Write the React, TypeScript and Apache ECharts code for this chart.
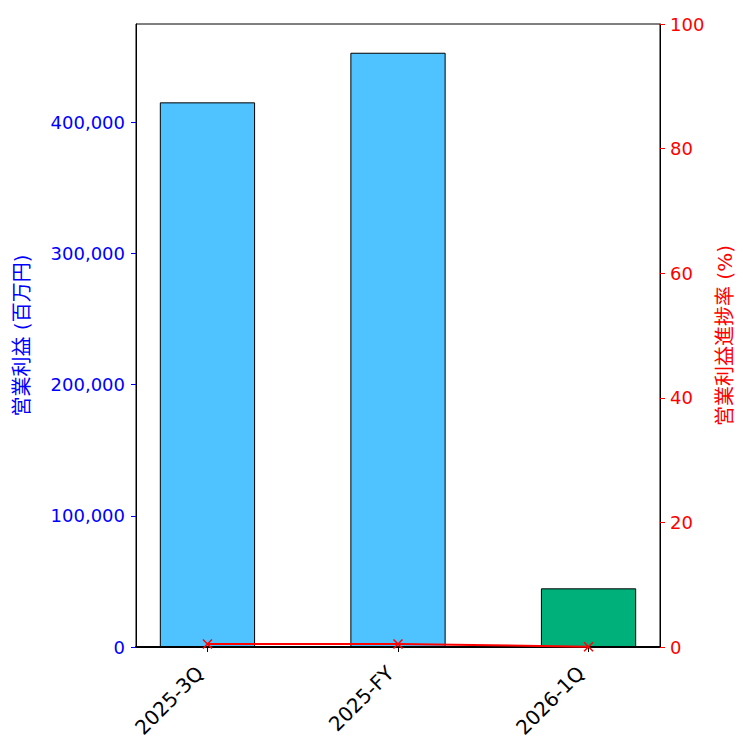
import React, { useEffect, useRef } from "react";
import * as echarts from "echarts";

const categories = ["2025-3Q", "2025-FY", "2026-1Q"];
const operatingProfit = [415000, 452800, 44700];
const progressRate = [0.48, 0.49, 0.05];
const barColors = ["#4fc3ff", "#4fc3ff", "#00b07b"];

const FONT = "'DejaVu Sans', 'Noto Sans CJK JP', sans-serif";

export default function App() {
  const ref = useRef<HTMLDivElement>(null);
  useEffect(() => {
    if (!ref.current) return;
    const chart = echarts.init(ref.current, undefined, { renderer: "svg" });
    const xMin = -0.375;
    const xMax = 2.375;
    const gridLeft = 136;
    const gridRight = 90;
    const plotW = 750 - gridLeft - gridRight;
    const barW = (0.5 * plotW) / (xMax - xMin);
    chart.setOption({
      animation: false,
      textStyle: { fontFamily: FONT },
      grid: {
        left: gridLeft,
        right: gridRight,
        top: 24,
        bottom: 103,
        show: true,
        borderColor: "#000",
        borderWidth: 1,
        backgroundColor: "transparent",
      },
      xAxis: {
        type: "value",
        min: xMin,
        max: xMax,
        axisLine: { show: true, onZero: false, lineStyle: { color: "#000", width: 2 } },
        axisTick: { show: true, customValues: [0, 1, 2], length: 5, lineStyle: { color: "#000" } },
        axisLabel: {
          customValues: [0, 1, 2],
          formatter: (v: number) => categories[Math.round(v)] ?? "",
          rotate: 45,
          color: "#000",
          fontSize: 20,
          fontFamily: FONT,
          margin: 15,
          padding: [0, 11, 0, 0],
        },
        splitLine: { show: false },
      },
      yAxis: [
        {
          type: "value",
          min: 0,
          max: 474700,
          interval: 100000,
          position: "left",
          name: "営業利益 (百万円)",
          nameLocation: "middle",
          nameRotate: 90,
          nameGap: 104,
          nameTextStyle: { color: "blue", fontSize: 20, fontFamily: FONT },
          axisLine: { show: true, onZero: false, lineStyle: { color: "#000" } },
          axisTick: { show: true, length: 5, lineStyle: { color: "blue" } },
          axisLabel: {
            color: "blue",
            fontSize: 18,
            fontFamily: FONT,
            margin: 11,
            formatter: (v: number) => v.toLocaleString("en-US"),
            showMaxLabel: false,
          },
          splitLine: { show: false },
        },
        {
          type: "value",
          min: 0,
          max: 100,
          interval: 20,
          position: "right",
          name: "営業利益進捗率 (%)",
          nameLocation: "middle",
          nameRotate: 90,
          nameGap: 51,
          nameTextStyle: { color: "red", fontSize: 20, fontFamily: FONT },
          axisLine: { show: true, onZero: false, lineStyle: { color: "#000" } },
          axisTick: { show: true, length: 5, lineStyle: { color: "red" } },
          axisLabel: { color: "red", fontSize: 18, fontFamily: FONT, margin: 10 },
          splitLine: { show: false },
        },
      ],
      series: [
        {
          type: "bar",
          yAxisIndex: 0,
          barWidth: barW,
          data: operatingProfit.map((v, i) => ({
            value: [i, v],
            itemStyle: { color: barColors[i], borderColor: "#000", borderWidth: 1 },
          })),
        },
        {
          type: "line",
          yAxisIndex: 1,
          data: progressRate.map((v, i) => [i, v]),
          lineStyle: { color: "red", width: 2 },
          symbol: "path://M0,0L10,10M10,0L0,10",
          symbolSize: 9,
          itemStyle: { color: "red", borderColor: "red", borderWidth: 1.5 },
          z: 5,
        },
      ],
    });
    return () => chart.dispose();
  }, []);
  return <div ref={ref} style={{ width: 750, height: 750, marginLeft: -8, marginTop: -8 }} />;
}
